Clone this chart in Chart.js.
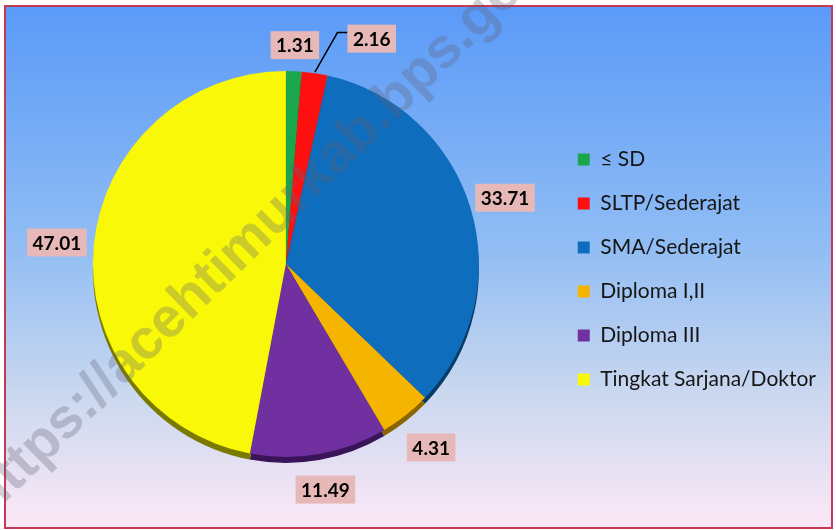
<!DOCTYPE html>
<html>
<head>
<meta charset="utf-8">
<script src="https://cdn.jsdelivr.net/npm/chart.js"></script>
<style>
  html, body { margin: 0; padding: 0; background: #fff; }
  #wrap { width: 836px; height: 530px; }
</style>
</head>
<body>
<div id="wrap"><canvas id="myChart" width="836" height="530"></canvas></div>
<script>
// data (percent)
const categories = ["≤ SD", "SLTP/Sederajat", "SMA/Sederajat", "Diploma I,II", "Diploma III", "Tingkat Sarjana/Doktor"];
const percentValues = [1.31, 2.16, 33.71, 4.31, 11.49, 47.01];
const valueLabels = ["1.31", "2.16", "33.71", "4.31", "11.49", "47.01"];
const watermarkText = "https://acehtimurkab.bps.go.id";

const sliceColors = ["#1aa64b", "#ff1010", "#0f6dbd", "#f5b400", "#7030a0", "#f8f808"];
const rimColors = ["#0d5a28", "#8a0808", "#073c68", "#8a6400", "#3a1458", "#7a7a00"];

const chart = document.getElementById("myChart");

// frame + gradient background
const backgroundPlugin = {
    id: "frameBackground",
    beforeDraw: (c) => {
        const ctx = c.ctx;
        ctx.save();
        ctx.fillStyle = "#ffffff";
        ctx.fillRect(0, 0, c.width, c.height);
        const grad = ctx.createLinearGradient(0, 6, 0, 528);
        grad.addColorStop(0, "#5a9af8");
        grad.addColorStop(0.45, "#8fbcf4");
        grad.addColorStop(0.75, "#cbd8ef");
        grad.addColorStop(1, "#fde8f6");
        ctx.fillStyle = grad;
        ctx.fillRect(5, 6, 827, 522);
        ctx.strokeStyle = "#c23a55";
        ctx.lineWidth = 2;
        ctx.strokeRect(5, 6, 827, 522);
        ctx.restore();
    }
};

// dark rim under the pie, looks like the 3D edge
const rimPlugin = {
    id: "pieRim",
    beforeDatasetsDraw: (c) => {
        const ctx = c.ctx;
        const meta = c.getDatasetMeta(0);
        ctx.save();
        meta.data.forEach((arc, i) => {
            const p = arc.getProps(["x", "y", "startAngle", "endAngle", "outerRadius"], true);
            ctx.beginPath();
            ctx.moveTo(p.x, p.y + 6);
            ctx.arc(p.x, p.y + 6, p.outerRadius, p.startAngle, p.endAngle);
            ctx.closePath();
            ctx.fillStyle = rimColors[i];
            ctx.fill();
        });
        ctx.restore();
    }
};

// value labels in pink boxes
const labelPlugin = {
    id: "valueBoxes",
    afterDatasetsDraw: (c) => {
        const ctx = c.ctx;
        const meta = c.getDatasetMeta(0);
        const gap = [26, 40, 36, 41, 36, 37];
        const shift = [[0, 0], [51, 5], [0, 0], [0, 0], [0, 0], [0, 0]];
        ctx.save();
        ctx.font = "bold 19px Lato, 'Open Sans', sans-serif";
        ctx.textAlign = "center";
        ctx.textBaseline = "middle";
        meta.data.forEach((arc, i) => {
            const p = arc.getProps(["x", "y", "startAngle", "endAngle", "outerRadius"], true);
            const mid = (p.startAngle + p.endAngle) / 2;
            const d = p.outerRadius + gap[i];
            const lx = p.x + Math.cos(mid) * d + shift[i][0];
            const ly = p.y + Math.sin(mid) * d + shift[i][1];
            const w = ctx.measureText(valueLabels[i]).width + 11;
            const h = 28;
            if (shift[i][0] !== 0) {
                // leader line
                const sx = p.x + Math.cos(mid) * (p.outerRadius + 1);
                const sy = p.y + Math.sin(mid) * (p.outerRadius + 1);
                ctx.beginPath();
                ctx.moveTo(sx, sy);
                ctx.lineTo(lx - w / 2 - 10, ly - 6);
                ctx.lineTo(lx - w / 2, ly - 6);
                ctx.strokeStyle = "#000";
                ctx.lineWidth = 1.5;
                ctx.stroke();
            }
            ctx.fillStyle = "#e6b9b8";
            ctx.fillRect(lx - w / 2, ly - h / 2, w, h);
            ctx.fillStyle = "#000";
            ctx.fillText(valueLabels[i], lx, ly + 1);
        });
        ctx.restore();
    }
};

// diagonal watermark on top, anchored on the "k"
const watermarkPlugin = {
    id: "watermark",
    afterDraw: (c) => {
        const ctx = c.ctx;
        ctx.save();
        ctx.font = "bold 56px 'Liberation Sans', Arial, sans-serif";
        ctx.translate(315, 178);
        ctx.rotate(-44.4 * Math.PI / 180);
        ctx.textAlign = "left";
        ctx.textBaseline = "alphabetic";
        ctx.fillStyle = "rgba(95, 95, 115, 0.3)";
        const pre = ctx.measureText("https://acehtimur").width + ctx.measureText("k").width / 2;
        ctx.fillText(watermarkText, -pre, 15);
        ctx.restore();
    }
};

const config = {
    type: "pie",
    data: {
        labels: categories,
        datasets: [
            {
                data: percentValues,
                backgroundColor: sliceColors,
                borderWidth: 0,
            },
        ],
    },
    options: {
        responsive: false,
        devicePixelRatio: 1,
        animation: false,
        layout: {
            padding: { top: 71, bottom: 73, left: 17, right: 10 },
        },
        plugins: {
            tooltip: { enabled: false },
            legend: {
                position: "right",
                title: { display: true, text: "", padding: 5, font: { size: 1 } },
                labels: {
                    boxWidth: 12,
                    boxHeight: 12,
                    padding: 23,
                    color: "#151515",
                    font: { family: "Lato, 'Open Sans', sans-serif", size: 21 },
                },
            },
        },
    },
    plugins: [backgroundPlugin, rimPlugin, labelPlugin, watermarkPlugin],
};

const myChart = new Chart(chart, config);
</script>
</body>
</html>
